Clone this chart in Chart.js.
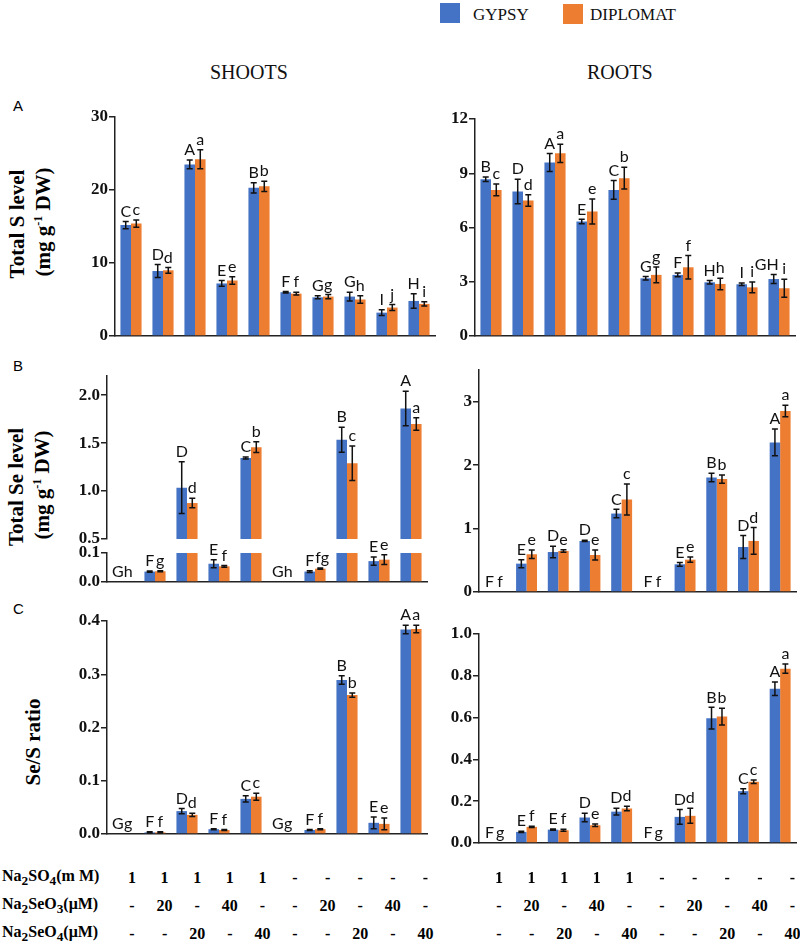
<!DOCTYPE html>
<html>
<head>
<meta charset="utf-8">
<script src="https://cdn.jsdelivr.net/npm/chart.js@4.4.0/dist/chart.umd.min.js"></script>
<style>
  body { margin: 0; background: #fff; width: 800px; height: 947px; position: relative; overflow: hidden; font-family: "Liberation Serif", serif; }
  canvas { position: absolute; }
  .t { position: absolute; white-space: nowrap; color: #111; font-family: "Liberation Serif", serif; }
  .ytitle { position: absolute; white-space: nowrap; font-weight: bold; font-size: 21px; font-family: "Liberation Serif", serif; transform: translate(-50%, -50%) rotate(-90deg); }
  .panel { position: absolute; font-family: "Liberation Sans", Arial, sans-serif; font-size: 15px; }
  .cell { position: absolute; font-weight: bold; font-size: 16px; transform: translate(-50%, -50%); }
  .rowlab { position: absolute; font-weight: bold; font-size: 16px; transform: translateY(-50%); left: 2px; }
  .sw { position: absolute; width: 20px; height: 20px; }
</style>
</head>
<body>

<div class="sw" style="left:440px;top:3px;background:#4472C4"></div>
<div class="t" style="left:473px;top:5px;font-size:17px">GYPSY</div>
<div class="sw" style="left:563px;top:4px;background:#ED7D31"></div>
<div class="t" style="left:590px;top:5px;font-size:17px">DIPLOMAT</div>

<div class="t" style="left:210px;top:61px;font-size:20px">SHOOTS</div>
<div class="t" style="left:587px;top:61px;font-size:20px">ROOTS</div>

<div class="panel" style="left:13px;top:97px">A</div>
<div class="panel" style="left:13px;top:357px">B</div>
<div class="panel" style="left:13px;top:600px">C</div>

<div class="ytitle" style="left:17px;top:224px">Total S level</div>
<div class="ytitle" style="left:43px;top:222px">(mg g<sup style="font-size:12px">-1</sup> DW)</div>
<div class="ytitle" style="left:16px;top:487px">Total Se level</div>
<div class="ytitle" style="left:42px;top:485px">(mg g<sup style="font-size:12px">-1</sup> DW)</div>
<div class="ytitle" style="left:33px;top:742px">Se/S ratio</div>

<canvas id="shootS"></canvas>
<canvas id="rootS"></canvas>
<canvas id="shootSeHi"></canvas>
<canvas id="shootSeLo"></canvas>
<canvas id="rootSe"></canvas>
<canvas id="shootR"></canvas>
<canvas id="rootR"></canvas>

<div id="table"></div>

<script>
// treatments (table under the charts)
const treatSO4  = ['1', '1', '1', '1', '1', '-', '-', '-', '-', '-'];
const treatSeO3 = ['-', '20', '-', '40', '-', '-', '20', '-', '40', '-'];
const treatSeO4 = ['-', '-', '20', '-', '40', '-', '-', '20', '-', '40'];
const categories = treatSO4.map((s, i) => s + '/' + treatSeO3[i] + '/' + treatSeO4[i]);
const cultivars = ['GYPSY', 'DIPLOMAT'];

// A - total S, shoots
const shootS_gyp    = [15.2, 8.9, 23.5, 7.2, 20.3, 6.0, 5.3, 5.4, 3.2, 4.8];
const shootS_gypErr = [0.5, 0.9, 0.6, 0.4, 0.7, 0.1, 0.2, 0.6, 0.4, 1.0];
const shootS_dip    = [15.4, 9.0, 24.2, 7.6, 20.5, 5.8, 5.4, 5.0, 3.9, 4.4];
const shootS_dipErr = [0.5, 0.4, 1.3, 0.5, 0.7, 0.2, 0.3, 0.5, 0.4, 0.3];
const shootS_gypLet = ['C', 'D', 'A', 'E', 'B', 'F', 'G', 'G', 'I', 'H'];
const shootS_dipLet = ['c', 'd', 'a', 'e', 'b', 'f', 'g', 'h', 'j', 'i'];

// A - total S, roots
const rootS_gyp    = [8.67, 7.99, 9.59, 6.33, 8.08, 3.19, 3.38, 2.97, 2.86, 3.15];
const rootS_gypErr = [0.12, 0.68, 0.5, 0.12, 0.52, 0.1, 0.1, 0.1, 0.07, 0.25];
const rootS_dip    = [8.08, 7.49, 10.1, 6.88, 8.73, 3.38, 3.8, 2.88, 2.69, 2.64];
const rootS_dipErr = [0.33, 0.32, 0.5, 0.69, 0.6, 0.44, 0.65, 0.32, 0.3, 0.5];
const rootS_gypLet = ['B', 'D', 'A', 'E', 'C', 'G', 'F', 'H', 'I', 'GH'];
const rootS_dipLet = ['c', 'd', 'a', 'e', 'b', 'g', 'f', 'h', 'i', 'i'];

// B - total Se, shoots (broken axis)
const shootSe_gyp    = [0, 0.036, 1.035, 0.063, 1.344, 0, 0.036, 1.535, 0.072, 1.86];
const shootSe_gypErr = [0, 0.002, 0.27, 0.014, 0.01, 0, 0.003, 0.13, 0.014, 0.18];
const shootSe_dip    = [0, 0.037, 0.875, 0.054, 1.458, 0, 0.046, 1.29, 0.077, 1.70];
const shootSe_dipErr = [0, 0.002, 0.05, 0.003, 0.055, 0, 0.002, 0.18, 0.017, 0.065];
const shootSe_gypLet = ['G', 'F', 'D', 'E', 'C', 'G', 'F', 'B', 'E', 'A'];
const shootSe_dipLet = ['h', 'g', 'd', 'f', 'b', 'h', 'fg', 'c', 'e', 'a'];

// B - total Se, roots
const rootSe_gyp    = [0, 0.447, 0.63, 0.805, 1.237, 0, 0.437, 1.805, 0.71, 2.358];
const rootSe_gypErr = [0, 0.063, 0.09, 0.01, 0.066, 0, 0.03, 0.066, 0.18, 0.21];
const rootSe_dip    = [0, 0.595, 0.647, 0.584, 1.458, 0, 0.51, 1.78, 0.805, 2.853];
const rootSe_dipErr = [0, 0.066, 0.02, 0.08, 0.245, 0, 0.04, 0.066, 0.21, 0.09];
const rootSe_gypLet = ['F', 'E', 'D', 'D', 'C', 'F', 'E', 'B', 'D', 'A'];
const rootSe_dipLet = ['f', 'e', 'e', 'e', 'c', 'f', 'e', 'b', 'd', 'a'];

// C - Se/S ratio, shoots
const shootR_gyp    = [0, 0.003, 0.043, 0.009, 0.066, 0, 0.0075, 0.289, 0.021, 0.384];
const shootR_gypErr = [0, 0.001, 0.005, 0.001, 0.006, 0, 0.001, 0.008, 0.011, 0.008];
const shootR_dip    = [0, 0.003, 0.036, 0.0075, 0.07, 0, 0.009, 0.261, 0.019, 0.385];
const shootR_dipErr = [0, 0.001, 0.003, 0.001, 0.0065, 0, 0.001, 0.004, 0.011, 0.007];
const shootR_gypLet = ['G', 'F', 'D', 'F', 'C', 'G', 'F', 'B', 'E', 'A'];
const shootR_dipLet = ['g', 'f', 'd', 'f', 'c', 'g', 'f', 'b', 'e', 'a'];

// C - Se/S ratio, roots
const rootR_gyp    = [0, 0.053, 0.064, 0.122, 0.15, 0, 0.125, 0.597, 0.248, 0.738];
const rootR_gypErr = [0, 0.003, 0.003, 0.02, 0.016, 0, 0.035, 0.052, 0.012, 0.032];
const rootR_dip    = [0, 0.077, 0.061, 0.085, 0.165, 0, 0.13, 0.605, 0.293, 0.834];
const rootR_dipErr = [0, 0.003, 0.005, 0.006, 0.011, 0, 0.036, 0.04, 0.008, 0.022];
const rootR_gypLet = ['F', 'E', 'E', 'D', 'D', 'F', 'D', 'B', 'C', 'A'];
const rootR_dipLet = ['g', 'f', 'f', 'e', 'd', 'g', 'd', 'b', 'c', 'a'];

const BLUE = '#4472C4', ORANGE = '#ED7D31', AXIS = '#222';

// error bars + significance letters
const errorBarPlugin = {
  id: 'errorBars',
  afterDatasetsDraw(chart) {
    const ctx = chart.ctx, area = chart.chartArea, y = chart.scales.y;
    chart.data.datasets.forEach((ds, di) => {
      const meta = chart.getDatasetMeta(di);
      meta.data.forEach((bar, i) => {
        const v = ds.data[i], e = ds.errors[i];
        const top = y.getPixelForValue(v + e);
        const bot = y.getPixelForValue(Math.max(v - e, 0));
        if (e > 0) {
          ctx.save();
          ctx.beginPath();
          ctx.rect(area.left, area.top - 1, area.right - area.left, area.bottom - area.top + 1);
          ctx.clip();
          ctx.strokeStyle = '#111';
          ctx.lineWidth = 1.5;
          ctx.beginPath();
          ctx.moveTo(bar.x, top); ctx.lineTo(bar.x, bot);
          ctx.moveTo(bar.x - 3, top); ctx.lineTo(bar.x + 3, top);
          ctx.moveTo(bar.x - 3, bot); ctx.lineTo(bar.x + 3, bot);
          ctx.stroke();
          ctx.restore();
        }
        const hi = v + e;
        if (hi >= y.min && hi <= y.max * 1.0001) {
          const txt = ds.letters[i];
          let x = bar.x, align = 'center';
          // two-letter labels lean away from the neighbouring bar
          if (txt.length > 1) {
            if (di === 0) { align = 'right'; x = bar.x + 5; }
            else { align = 'left'; x = bar.x - 5; }
          }
          ctx.save();
          ctx.fillStyle = '#111';
          ctx.font = '16px Lato, "Open Sans", sans-serif';
          ctx.textAlign = align;
          ctx.textBaseline = 'bottom';
          ctx.fillText(txt, x, top - 2);
          ctx.restore();
        }
      });
    });
  }
};

function renderPanel(id, geo, series, yOpts) {
  const el = document.getElementById(id);
  el.width = geo.x1 - geo.x0 + 80;
  el.height = geo.y1 - geo.y0 + 40;
  el.style.left = (geo.x0 - 60) + 'px';
  el.style.top = (geo.y0 - 20) + 'px';
  new Chart(el, {
    type: 'bar',
    data: {
      labels: categories,
      datasets: [
        { label: cultivars[0], data: series[0], errors: series[1], letters: series[4], backgroundColor: BLUE, clip: 0 },
        { label: cultivars[1], data: series[2], errors: series[3], letters: series[5], backgroundColor: ORANGE, clip: 0 }
      ]
    },
    options: {
      responsive: false,
      animation: false,
      devicePixelRatio: 1,
      layout: { padding: { top: 20, bottom: 20, left: 0, right: 20 } },
      datasets: { bar: { barPercentage: 1, categoryPercentage: 0.66, borderWidth: 0 } },
      plugins: { legend: { display: false }, tooltip: { enabled: false } },
      scales: {
        x: {
          ticks: { display: false },
          grid: { display: false },
          border: { display: geo.xAxis !== false, color: AXIS, width: 1.5 },
          afterFit: s => { s.height = 0; }
        },
        y: {
          min: yOpts.min, max: yOpts.max,
          afterFit: s => { s.width = 60; },
          grid: { drawOnChartArea: false, drawTicks: true, tickLength: 6, color: AXIS, lineWidth: 1.5 },
          border: { display: true, color: AXIS, width: 1.5 },
          ticks: {
            stepSize: yOpts.step,
            includeBounds: false,
            padding: 1,
            color: '#111',
            font: { family: '"Liberation Serif", serif', size: 17, weight: 'bold' },
            callback: v => v.toFixed(yOpts.dec)
          }
        }
      }
    },
    plugins: [errorBarPlugin]
  });
}

renderPanel('shootS', { x0: 115, x1: 435, y0: 117, y1: 336 },
  [shootS_gyp, shootS_gypErr, shootS_dip, shootS_dipErr, shootS_gypLet, shootS_dipLet],
  { min: 0, max: 30, step: 10, dec: 0 });
renderPanel('rootS', { x0: 475, x1: 795, y0: 119, y1: 336 },
  [rootS_gyp, rootS_gypErr, rootS_dip, rootS_dipErr, rootS_gypLet, rootS_dipLet],
  { min: 0, max: 12, step: 3, dec: 0 });
renderPanel('shootSeHi', { x0: 107, x1: 427, y0: 376, y1: 539, xAxis: false },
  [shootSe_gyp, shootSe_gypErr, shootSe_dip, shootSe_dipErr, shootSe_gypLet, shootSe_dipLet],
  { min: 0.5, max: 2.2, step: 0.5, dec: 1 });
renderPanel('shootSeLo', { x0: 107, x1: 427, y0: 553, y1: 582 },
  [shootSe_gyp, shootSe_gypErr, shootSe_dip, shootSe_dipErr, shootSe_gypLet, shootSe_dipLet],
  { min: 0, max: 0.1, step: 0.1, dec: 1 });
renderPanel('rootSe', { x0: 479, x1: 796, y0: 370, y1: 592 },
  [rootSe_gyp, rootSe_gypErr, rootSe_dip, rootSe_dipErr, rootSe_gypLet, rootSe_dipLet],
  { min: 0, max: 3.5, step: 1, dec: 0 });
renderPanel('shootR', { x0: 107, x1: 427, y0: 621, y1: 834 },
  [shootR_gyp, shootR_gypErr, shootR_dip, shootR_dipErr, shootR_gypLet, shootR_dipLet],
  { min: 0, max: 0.4, step: 0.1, dec: 1 });
renderPanel('rootR', { x0: 479, x1: 796, y0: 634, y1: 843 },
  [rootR_gyp, rootR_gypErr, rootR_dip, rootR_dipErr, rootR_gypLet, rootR_dipLet],
  { min: 0, max: 1.0, step: 0.2, dec: 1 });

// treatment table
(function buildTable() {
  const box = document.getElementById('table');
  const rows = [
    { label: 'Na<sub>2</sub>SO<sub>4</sub>(m M)', vals: treatSO4, y: 878 },
    { label: 'Na<sub>2</sub>SeO<sub>3</sub>(μM)', vals: treatSeO3, y: 906 },
    { label: 'Na<sub>2</sub>SeO<sub>4</sub>(μM)', vals: treatSeO4, y: 934 }
  ];
  const starts = [132, 499], step = 32.6;
  let html = '';
  rows.forEach(r => {
    html += '<div class="rowlab" style="top:' + r.y + 'px">' + r.label + '</div>';
    starts.forEach(x0 => {
      r.vals.forEach((v, i) => {
        html += '<div class="cell" style="left:' + (x0 + i * step) + 'px;top:' + r.y + 'px">' + v + '</div>';
      });
    });
  });
  box.innerHTML = html;
})();
</script>
</body>
</html>
